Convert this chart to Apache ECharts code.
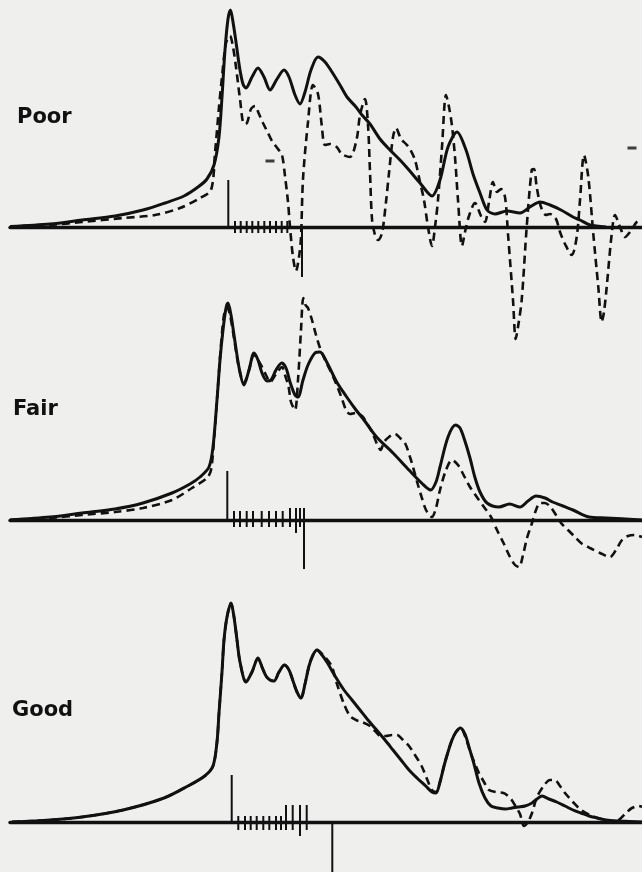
<!DOCTYPE html>
<html>
<head>
<meta charset="utf-8">
<script src="https://cdn.jsdelivr.net/npm/echarts@6/dist/echarts.min.js"></script>
<style>
html,body{margin:0;padding:0;background:#efefed;}
#c{width:642px;height:872px;}
</style>
</head>
<body>
<div id="c"></div>
<script>
// Panel labels
var panelLabels = ['Poor', 'Fair', 'Good'];

// Curves: [x, height above baseline]
var poorSolid = [[10,0.5],[50,3],[82,7],[115,11],[143,17],[165,24],[184,31],[198,40],[207,48],[214,62],[219,90],[222,130],[225,177],[228,208],[230.5,217],[233,205],[236,185],[239.5,160],[243,143],[246,139],[252,150],[258,159],[264,150],[270,137],[277,148],[284,157],[289,150],[295,132],[300,123],[305,135],[311,157],[318,170],[325,165],[332,155],[340,142],[347,130],[356,120],[362,112],[370,103],[380,88],[389,78],[400,67],[409,57],[420,44],[432,31],[440,47],[448,80],[457,95],[466,77],[473,53],[480,34],[487,17],[495,13],[507,16],[520,14],[530,20],[540,25],[550,22],[561,17],[573,10],[580,7],[590,2],[606,0]];
var poorDashed = [[10,0.5],[50,2],[82,5],[123,9],[155,12],[180,19],[200,29],[211,37],[215,74],[219,120],[222,150],[226,184],[230,191],[233,180],[236,160],[240,128],[244,103],[247,104],[251,118],[255,121],[259,113],[263,104],[268,94],[272,86],[278,78],[282,72],[285,51],[288,25],[290,0],[293,-30],[296,-44],[299,-30],[301,-10],[303,48],[308,105],[313,142],[318,133],[321.7,102],[325,82],[330,83],[336.7,80],[341.7,73],[350,70],[356.7,88],[360,112],[365,128],[368,102],[370,55],[372,8],[375,-8],[378,-13],[382,-6],[386,25],[389,54],[393,90],[396,99],[401,88],[406,83],[410,78],[415,67],[420,45],[424,27],[428,0],[432,-19],[435,0],[438,27],[442,80],[446,132],[449,120],[452,101],[455,70],[458,27],[462,-19],[465,-5],[469,11],[475,24],[481,11],[485,5],[489,25],[493,45],[497,35],[501,38],[505,30],[508,-7],[513,-73],[515.7,-112],[518,-100],[521.7,-73],[526.7,0],[531.7,57],[534,58],[536.7,40],[541,20],[546,12],[550,13],[556,8],[560,-5],[565,-17],[571.7,-28],[576.7,-10],[580,27],[584,72],[588.3,50],[593.3,-7],[598.3,-60],[601.7,-95],[604,-85],[606.7,-60],[611.7,-7],[615,12],[620,0],[625,-10],[630,-5],[636.7,5],[642,8]];
var poorStray = [[270,66],[632,79]];

var fairSolid = [[10,0],[50,3],[82,7],[115,11],[143,17],[172,27],[190,36],[200,43],[209,53],[213,73],[217,120],[220,160],[223,190],[226,212],[228,217],[231,205],[234,185],[239.5,150],[244,135],[249,150],[254,167],[258,160],[262,147],[267,139],[271,140],[276,150],[281.7,157],[286,152],[290,138],[295,125],[298,123],[303,140],[308,155],[315,167],[320,168],[326.7,158],[336.7,138],[346,124],[356,110],[364,100],[376.6,83],[393,67],[409,50],[421.6,37],[430.6,30],[436,38],[440,53],[448,83],[455.6,95],[460,92],[464.6,80],[470,62],[474.8,43],[480,28],[487,17],[499,13],[509.6,16],[520,13],[528,19],[536,24],[545,22],[552.6,18],[563,14],[573,10],[589,3],[606,2],[642,0]];
var fairDashed = [[10,0],[50,2],[82,5],[115,8],[143,12],[172,20],[192,32],[207,42],[211,50],[214,80],[217,120],[221,175],[224,205],[227,213],[230,205],[234,182],[239,152],[244,137],[249,150],[254,165],[258,160],[262,153],[266,145],[270,138],[276,146],[282,153],[285,145],[288.6,133],[291,118],[295,110],[298,140],[301,190],[303.3,222],[305.5,215],[308,212],[312,200],[316,185],[320,172],[326,158],[331,148],[336.7,135],[341.7,122],[346,110],[350,106],[356,107],[362,104],[368,95],[372.5,87],[377,76],[380.7,70],[384,78],[389,83],[395,86],[400,82],[405,77],[410,63],[413,53],[418,35],[421.6,23],[426,10],[431.8,3],[436,12],[440,30],[446,50],[452,60],[458,55],[464.6,43],[470,33],[476.8,23],[484,13],[491,3],[497,-10],[503.5,-23],[510,-37],[515,-45],[519,-47],[523,-35],[527,-18],[532,-3],[536,10],[540,17],[545,17],[550.5,13],[556,5],[561,-3],[568,-10],[575,-17],[581,-23],[590,-28],[600,-33],[610,-37],[616,-30],[622,-20],[628,-16],[634.5,-15],[642,-17]];

var goodSolid = [[12,0],[50,2],[82,5],[123,12],[164,24],[188,36],[204.7,46],[213,56],[217,80],[219,109],[222,150],[224,182],[227,205],[231,219],[234,205],[237,182],[240,160],[246,140],[252,150],[258,164],[262,155],[266,146],[270,142],[274,141],[279,150],[284.5,157],[289,152],[292.7,142],[297,130],[301,124],[305,138],[309,156],[313,167],[317,172],[322,167],[327.5,159],[335,146],[344,132],[352,122],[360,112],[368,102],[376.6,92],[385,82],[393,72],[401,62],[409,52],[417,44],[425.7,36],[432,30],[436,29],[440,40],[444,56],[448,70],[452,82],[456,90],[460.5,94],[465,88],[468.7,76],[474,58],[479,39],[485,24],[491,16],[498,14],[505.5,13],[512,14],[518,15],[525,16],[532,19],[537,23],[542,26],[549,23],[556.7,20],[565,16],[573,12],[581,9],[589,6],[597,4],[606,2],[620,1],[642,0]];
var goodDashed = [[12,0],[50,2],[82,5],[123,12],[164,24],[188,36],[204.7,46],[213,56],[217,80],[219,109],[222,150],[224,182],[227,205],[231,219],[234,205],[237,182],[240,160],[246,140],[252,150],[258,164],[262,155],[266,146],[270,142],[274,141],[279,150],[284.5,157],[289,152],[292.7,142],[297,130],[301,124],[305,138],[309,156],[313,167],[317,172],[319,171],[325,165],[331.6,156],[337,138],[344,118],[350,106],[356,102],[362,100],[370,96],[375,91],[380.7,86],[386,86],[392,87],[397,87],[403,82],[409,76],[415,67],[421.6,56],[427,43],[431.8,32],[436,30],[440,40],[444,56],[448,70],[452,82],[456,90],[460.5,94],[465,86],[470.7,69],[475,58],[479,49],[484,40],[489,32],[496,30],[503.5,29],[508,26],[511.7,22],[516,15],[520,8],[524,-4],[528,0],[532,9],[537,25],[544.4,37],[550,42],[554.6,42],[560,36],[565,29],[573,20],[581,12],[590,7],[597.6,4],[606,1],[614,0],[620,3],[626,9],[632,14],[638.5,16],[642,15]];

// Stick marks: [x, top, bottom]
var poorTicks = [[228.3,47,0],[235,6,-6],[240.7,6,-6],[246.7,6,-6],[252.3,6,-6],[258.3,6,-6],[264.3,6,-6],[270,6,-6],[276,6,-6],[281.7,6,-6],[287.3,6,-6],[302,0,-50]];
var fairTicks = [[227.3,49,0],[234,9,-7],[240,9,-7],[246.7,9,-7],[253,9,-7],[261.7,9,-7],[269,9,-7],[276,9,-7],[282.7,9,-7],[290,12,-7],[296,12,-13],[300,12,-7],[304,12,-49]];
var goodTicks = [[231.7,47,0],[238.3,6,-8],[245,6,-8],[250.7,6,-8],[256.7,6,-8],[263.3,6,-8],[269.3,6,-8],[276,6,-8],[281,6,-8],[286,17,-8],[292.7,17,-8],[300,17,-14],[306.7,17,-8],[332.3,0,-70]];

var INK = '#111';
// per-panel layout: grid top, y range
var layout = [
  {top: 0, height: 347, min: -120, max: 227},
  {top: 290, height: 350, min: -120, max: 230},
  {top: 592, height: 280, min: -50, max: 230}
];
var labelY = [119, 411, 712];
var labelX = [17, 13, 12];

var panels = [
  {solid: poorSolid, dashed: poorDashed, ticks: poorTicks},
  {solid: fairSolid, dashed: fairDashed, ticks: fairTicks},
  {solid: goodSolid, dashed: goodDashed, ticks: goodTicks}
];

var grids = [], xAxes = [], yAxes = [], series = [], graphics = [];
panels.forEach(function (p, i) {
  var L = layout[i];
  grids.push({left: 10, right: 0, top: L.top, height: L.height, containLabel: false});
  xAxes.push({type: 'value', gridIndex: i, min: 10, max: 642,
    axisLine: {show: true, onZero: true, lineStyle: {color: INK, width: 3.4}},
    axisTick: {show: false}, axisLabel: {show: false}, splitLine: {show: false}});
  yAxes.push({type: 'value', gridIndex: i, min: L.min, max: L.max, show: false,
    splitLine: {show: false}});
  series.push({type: 'line', xAxisIndex: i, yAxisIndex: i, data: p.dashed, showSymbol: false,
    smooth: 0.3, clip: false, lineStyle: {color: INK, width: 2.6, type: [8, 5]}, z: 3});
  series.push({type: 'line', xAxisIndex: i, yAxisIndex: i, data: p.solid, showSymbol: false,
    smooth: 0.3, clip: false, lineStyle: {color: INK, width: 3}, z: 4});
  series.push({type: 'custom', xAxisIndex: i, yAxisIndex: i, data: p.ticks, clip: false, z: 5,
    renderItem: function (params, api) {
      var a = api.coord([api.value(0), api.value(1)]);
      var b = api.coord([api.value(0), api.value(2)]);
      return {type: 'line', shape: {x1: a[0], y1: a[1], x2: b[0], y2: b[1]},
        style: {stroke: INK, lineWidth: 2}};
    }});
  graphics.push({type: 'text', left: labelX[i], top: labelY[i] - 12,
    style: {text: panelLabels[i], fill: INK, font: 'bold 21px "DejaVu Sans"'}});
});
series.push({type: 'scatter', xAxisIndex: 0, yAxisIndex: 0, data: poorStray,
  symbol: 'rect', symbolSize: [9, 3], itemStyle: {color: INK}, z: 5});

var chart = echarts.init(document.getElementById('c'), null, {renderer: 'canvas'});
chart.setOption({
  backgroundColor: '#efefed',
  animation: false,
  grid: grids, xAxis: xAxes, yAxis: yAxes, series: series, graphic: graphics
});
</script>
</body>
</html>
